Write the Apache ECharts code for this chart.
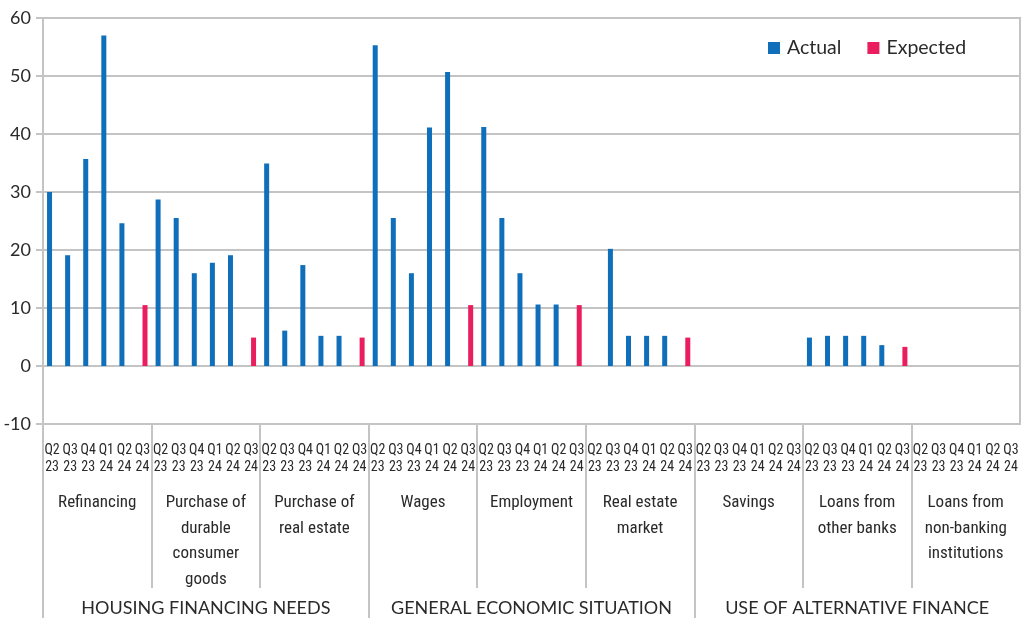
<!DOCTYPE html>
<html>
<head>
<meta charset="utf-8">
<script src="https://cdn.jsdelivr.net/npm/echarts@6/dist/echarts.min.js"></script>
<style>
  html, body { margin: 0; padding: 0; background: #fff; }
  #chart { width: 1022px; height: 618px; }
</style>
</head>
<body>
<div id="chart"></div>
<script>
// Category hierarchy
const groupNames = ['HOUSING FINANCING NEEDS', 'GENERAL ECONOMIC SITUATION', 'USE OF ALTERNATIVE FINANCE'];
const factorNames = [
  'Refinancing',
  'Purchase of\ndurable\nconsumer\ngoods',
  'Purchase of\nreal estate',
  'Wages',
  'Employment',
  'Real estate\nmarket',
  'Savings',
  'Loans from\nother banks',
  'Loans from\nnon-banking\ninstitutions'
];
const quarterLabels = ['Q2\n23', 'Q3\n23', 'Q4\n23', 'Q1\n24', 'Q2\n24', 'Q3\n24'];

// Actual values, Q2 23 .. Q2 24, one row per factor
const actualValues = [
  [30.0, 19.1, 35.7, 57.0, 24.6],
  [28.7, 25.5, 16.0, 17.8, 19.1],
  [34.9, 6.1, 17.4, 5.2, 5.2],
  [55.3, 25.5, 16.0, 41.1, 50.7],
  [41.2, 25.5, 16.0, 10.6, 10.6],
  [0, 20.2, 5.2, 5.2, 5.2],
  [0, 0, 0, 0, 0],
  [4.9, 5.2, 5.2, 5.2, 3.6],
  [0, 0, 0, 0, 0]
];
// Expected values for Q3 24, one per factor
const expectedValues = [10.5, 4.9, 4.9, 10.5, 10.5, 4.9, 0, 3.3, 0];

const yTicks = { min: -10, max: 60, step: 10 };

// Pick the first installed font from a list
function hasFont(name) {
  const ctx = document.createElement('canvas').getContext('2d');
  const s = 'abcdefghijklmnopqrstuvwxyzABCDEFGHIJ0123456789';
  let found = false;
  for (const base of ['monospace', 'serif', 'sans-serif']) {
    ctx.font = '40px ' + base;
    const a = ctx.measureText(s).width;
    ctx.font = '40px "' + name + '", ' + base;
    const b = ctx.measureText(s).width;
    if (a !== b) found = true;
  }
  return found;
}
function pickFont(list) {
  for (const f of list) if (hasFont(f)) return f;
  return null;
}
const CONDENSED = pickFont([
  'Noto Sans Condensed', 'Noto Sans SemiCondensed', 'Roboto Condensed',
  'Liberation Sans Narrow', 'DejaVu Sans Condensed', 'Open Sans Condensed',
  'Ubuntu Condensed', 'Nimbus Sans Narrow', 'Arial Narrow', 'Noto Sans ExtraCondensed'
]);
const NARROW = CONDENSED || 'Roboto';
const qSize = CONDENSED ? 14 : 11.5;
const fSize = CONDENSED ? 17 : 14.5;
const MAIN = 'Lato';

const BLUE = '#0f6fba';
const PINK = '#ea1d5e';
const GRAY = '#c4c4c4';
const TEXT = '#2a2a2a';

// Flatten into one slot per factor/quarter
const slotKeys = [];
const actualSeries = [];
const expectedSeries = [];
factorNames.forEach((f, i) => {
  quarterLabels.forEach(q => slotKeys.push(i + '|' + q));
  actualValues[i].forEach(v => { actualSeries.push(v); expectedSeries.push(null); });
  actualSeries.push(null);
  expectedSeries.push(expectedValues[i]);
});

const lineStyle = { color: GRAY, width: 2 };

const chart = echarts.init(document.getElementById('chart'), null, { renderer: 'canvas' });
chart.setOption({
  animation: false,
  grid: [
    { left: 43, right: 2, top: 18, bottom: 194, show: true, borderColor: GRAY, borderWidth: 2, backgroundColor: 'transparent' },
    { left: 43, right: 2, top: 424, height: 164 },
    { left: 43, right: 2, top: 424, height: 194 }
  ],
  legend: {
    data: ['Actual', 'Expected'],
    left: 763, top: 33,
    icon: 'rect', itemWidth: 12, itemHeight: 12, itemGap: 26,
    textStyle: { fontFamily: MAIN, fontSize: 19.5, color: TEXT, padding: [0, 0, 0, 2] }
  },
  xAxis: [
    {
      type: 'category', gridIndex: 0, data: slotKeys, position: 'bottom',
      axisLine: { onZero: false, lineStyle },
      axisTick: { interval: 0, length: 6, lineStyle },
      axisLabel: {
        interval: 0, margin: 18, hideOverlap: false,
        formatter: v => v.split('|')[1],
        fontFamily: NARROW, fontSize: qSize, lineHeight: 17, color: TEXT
      },
      splitLine: { show: false }
    },
    {
      type: 'category', gridIndex: 0, data: slotKeys, position: 'top',
      axisLine: { show: false, onZero: true },
      axisTick: { inside: true, interval: 0, length: 5, lineStyle },
      axisLabel: { show: false }
    },
    {
      type: 'category', gridIndex: 0, data: slotKeys, position: 'top',
      axisLine: { show: false, onZero: true },
      axisTick: { inside: true, interval: 0, alignWithLabel: true, length: 2, lineStyle },
      axisLabel: { show: false }
    },
    {
      type: 'category', gridIndex: 1, data: factorNames, position: 'top',
      axisLine: { show: false, onZero: false },
      axisTick: { show: false },
      axisLabel: {
        inside: true, interval: 0, margin: 66,
        fontFamily: NARROW, fontSize: fSize, lineHeight: 25.5, color: TEXT, align: 'center'
      },
      splitLine: { show: true, interval: 0, showMinLine: false, showMaxLine: false, lineStyle }
    },
    {
      type: 'category', gridIndex: 2, data: groupNames, position: 'top',
      axisLine: { show: false, onZero: false },
      axisTick: { show: false },
      axisLabel: {
        inside: true, interval: 0, margin: 175,
        fontFamily: MAIN, fontSize: 18, color: TEXT
      },
      splitLine: { show: true, interval: 0, showMinLine: true, showMaxLine: false, lineStyle }
    }
  ],
  yAxis: [
    {
      type: 'value', gridIndex: 0,
      min: yTicks.min, max: yTicks.max, interval: yTicks.step,
      axisLine: { show: true, lineStyle },
      axisTick: { show: true, length: 7, lineStyle },
      axisLabel: { fontFamily: MAIN, fontSize: 18, color: TEXT, margin: 12 },
      splitLine: { show: true, lineStyle }
    },
    { type: 'value', gridIndex: 1, show: false },
    { type: 'value', gridIndex: 2, show: false }
  ],
  series: [
    {
      name: 'Actual', type: 'bar', xAxisIndex: 0, yAxisIndex: 0,
      data: actualSeries, barWidth: 5, barGap: '0%',
      itemStyle: { color: BLUE }
    },
    {
      name: 'Expected', type: 'bar', xAxisIndex: 0, yAxisIndex: 0,
      data: expectedSeries, barWidth: 5, barGap: '0%',
      itemStyle: { color: PINK }
    }
  ]
});
</script>
</body>
</html>
